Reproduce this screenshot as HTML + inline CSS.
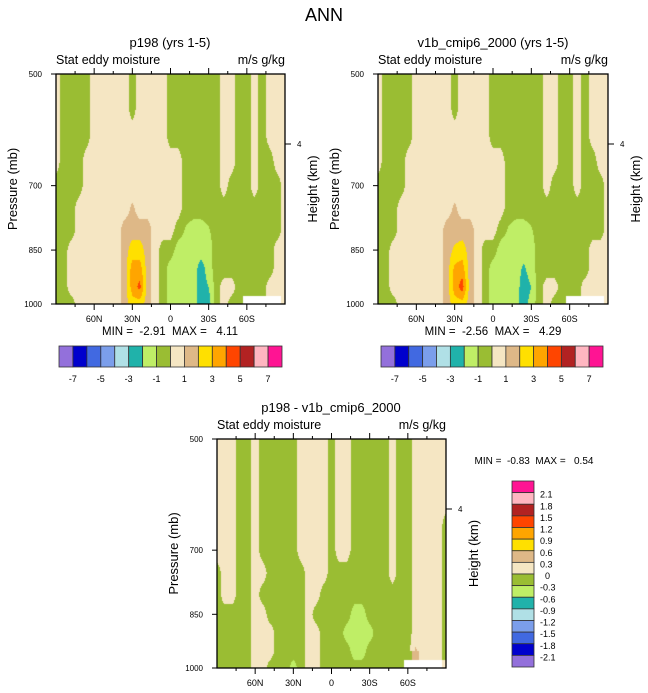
<!DOCTYPE html>
<html><head><meta charset="utf-8">
<style>
body{margin:0;background:#fff;width:648px;height:693px;position:relative;overflow:hidden;font-family:"Liberation Sans",sans-serif}
canvas{position:absolute}
svg{position:absolute;left:0;top:0}
text{font-family:"Liberation Sans",sans-serif;fill:#000;white-space:pre}
</style></head>
<body>
<canvas id="c1" width="229" height="230" style="left:56px;top:74px"></canvas>
<canvas id="c2" width="230" height="230" style="left:378px;top:74px"></canvas>
<canvas id="c3" width="229" height="229" style="left:217px;top:439px"></canvas>
<svg id="s" width="648" height="693"></svg>
<script>
const latLabels=["60N","30N","0","30S","60S"];
const pTicks=[500,700,850,1000];
const colors=["#9370DB","#0000CD","#4169E1","#7B9EEB","#B0E0E6","#20B2AA","#BFEE66","#9ABD33","#F5E6C3","#DEB887","#FFE000","#FFA500","#FF4500","#B22222","#FFB6C1","#FF1493"];
const topLevelLabels=["-7","-5","-3","-1","1","3","5","7"];
const diffLevelLabels=["2.1","1.8","1.5","1.2","0.9","0.6","0.3","0","-0.3","-0.6","-0.9","-1.2","-1.5","-1.8","-2.1"];
const pLevels=[500,550,600,650,700,750,800,850,900,950,1000];
// rows: pressure 500..1000, columns 90N..90S every 6 deg
const gridA=[
[0.5,-0.5,-0.5,-0.5,-0.5,0.5,0.5,0.5,0.5,0.5,-0.5,0.5,0.5,0.5,0.5,-0.5,-0.5,-0.5,-0.5,-0.5,-0.5,-0.5,0.5,0.5,-0.5,-0.5,0.5,-0.5,0.5,0.5,0.5],
[0.5,-0.5,-0.5,-0.5,-0.5,0.5,0.5,0.5,0.5,0.5,-0.5,0.5,0.5,0.5,0.5,-0.5,-0.5,-0.5,-0.5,-0.5,-0.5,-0.5,0.5,0.5,-0.5,-0.5,0.5,-0.5,0.5,0.5,0.5],
[0.5,-0.5,-0.5,-0.5,-0.5,0.5,0.5,0.5,0.5,0.5,0.5,0.5,0.5,0.5,0.5,-0.5,-0.5,-0.5,-0.5,-0.5,-0.5,-0.5,0.5,0.5,-0.5,-0.5,0.5,-0.5,0.5,0.5,0.5],
[0.5,-0.5,-0.5,-0.5,0.5,0.5,0.5,0.5,0.5,0.5,0.5,0.5,0.5,0.5,0.5,0.5,0.5,-0.5,-0.5,-0.5,-0.5,-0.5,0.5,0.5,-0.5,-0.5,0.5,-0.5,-0.5,0.5,0.5],
[-0.5,-0.5,-0.5,-0.5,0.5,0.5,0.5,0.5,0.5,0.5,0.5,0.5,0.5,0.5,0.5,0.5,0.5,-0.5,-0.5,-0.5,-0.5,-0.5,0.5,-0.5,-0.5,-0.5,0.5,-0.5,-0.5,-0.5,0.5],
[-0.5,-0.5,-0.5,0.5,0.5,0.5,0.5,0.5,0.5,0.5,1.2,0.5,0.5,0.5,0.5,0.5,0.5,-0.5,-0.5,-0.5,-0.5,-0.5,-0.5,-0.5,-0.5,-0.5,-0.5,-0.5,-0.5,-0.5,0.5],
[-0.5,-0.5,-0.5,0.5,0.5,0.5,0.5,0.5,0.5,1.5,1.5,1.5,1.5,0.5,0.5,0.5,-0.5,-1.1,-1.5,-1.5,-1.1,-0.5,-0.5,-0.5,-0.5,-0.5,-0.5,-0.5,-0.5,-0.5,0.5],
[-0.5,-0.5,0.5,0.5,0.5,0.5,0.5,0.5,0.5,1.5,2.5,2.5,1.5,0.5,-0.5,-0.5,-1.5,-1.5,-1.5,-1.5,-1.5,-0.5,-0.5,-0.5,-0.5,-0.5,-0.5,-0.5,-0.5,0.5,0.5],
[-0.5,-0.5,0.5,0.5,0.5,0.5,0.5,0.5,0.5,1.5,3.5,3.5,1.5,0.5,-0.5,-1.5,-1.5,-1.5,-1.5,-2.5,-1.5,-0.5,-0.5,-0.5,-0.5,-0.5,-0.5,-0.5,-0.5,0.5,0.5],
[-0.5,-0.5,0.5,0.5,0.5,0.5,0.5,0.5,0.5,1.5,3.5,4.3,1.5,0.5,-0.5,-1.5,-1.5,-1.5,-1.5,-2.5,-2.0,-0.5,0.5,0.5,-0.5,-0.5,-0.5,-0.5,0.5,0.5,0.5],
[-0.5,-0.5,-0.5,0.5,0.5,0.5,0.5,0.5,0.5,1.5,2.5,2.5,1.5,0.5,-0.5,-1.5,-1.5,-1.5,-1.5,-2.5,-2.5,-0.5,0.5,-0.5,-0.5,null,null,null,null,null,0.5]];
const gridB=[
[0.5,-0.5,-0.5,-0.5,-0.5,0.5,0.5,0.5,0.5,0.5,-0.5,0.5,0.5,0.5,0.5,-0.5,-0.5,-0.5,-0.5,-0.5,-0.5,-0.5,0.5,0.5,-0.5,-0.5,0.5,-0.5,0.5,0.5,0.5],
[0.5,-0.5,-0.5,-0.5,-0.5,0.5,0.5,0.5,0.5,0.5,-0.5,0.5,0.5,0.5,0.5,-0.5,-0.5,-0.5,-0.5,-0.5,-0.5,-0.5,0.5,0.5,-0.5,-0.5,0.5,-0.5,0.5,0.5,0.5],
[0.5,-0.5,-0.5,-0.5,-0.5,0.5,0.5,0.5,0.5,0.5,0.5,0.5,0.5,0.5,0.5,-0.5,-0.5,-0.5,-0.5,-0.5,-0.5,-0.5,0.5,0.5,-0.5,-0.5,0.5,-0.5,0.5,0.5,0.5],
[0.5,-0.5,-0.5,-0.5,0.5,0.5,0.5,0.5,0.5,0.5,0.5,0.5,0.5,0.5,0.5,0.5,0.5,-0.5,-0.5,-0.5,-0.5,-0.5,0.5,0.5,-0.5,-0.5,0.5,-0.5,-0.5,0.5,0.5],
[-0.5,-0.5,-0.5,-0.5,0.5,0.5,0.5,0.5,0.5,0.5,0.5,0.5,0.5,0.5,0.5,0.5,0.5,-0.5,-0.5,-0.5,-0.5,-0.5,0.5,-0.5,-0.5,-0.5,0.5,-0.5,-0.5,-0.5,0.5],
[-0.5,-0.5,-0.5,0.5,0.5,0.5,0.5,0.5,0.5,0.5,1.2,0.5,0.5,0.5,0.5,0.5,0.5,-0.5,-0.5,-0.5,-0.5,-0.5,-0.5,-0.5,-0.5,-0.5,-0.5,-0.5,-0.5,-0.5,0.5],
[-0.5,-0.5,-0.5,0.5,0.5,0.5,0.5,0.5,0.5,1.5,1.5,1.5,1.5,0.5,0.5,0.5,-0.5,-1.1,-1.5,-1.5,-1.1,-0.5,-0.5,-0.5,-0.5,-0.5,-0.5,-0.5,-0.5,-0.5,0.5],
[-0.5,-0.5,0.5,0.5,0.5,0.5,0.5,0.5,0.5,1.5,2.2,2.5,1.5,0.5,-0.5,-0.5,-1.5,-1.5,-1.5,-1.5,-1.5,-0.5,-0.5,-0.5,-0.5,-0.5,-0.5,-0.5,0.5,0.5,0.5],
[-0.5,-0.5,0.5,0.5,0.5,0.5,0.5,0.5,0.5,1.5,3.3,3.5,1.5,0.5,-0.5,-1.5,-1.5,-1.5,-1.5,-2.2,-1.5,-0.5,-0.5,-0.5,-0.5,-0.5,-0.5,-0.5,0.5,0.5,0.5],
[-0.5,-0.5,0.5,0.5,0.5,0.5,0.5,0.5,0.5,1.5,3.5,4.5,1.5,0.5,-0.5,-1.5,-1.5,-1.5,-1.5,-2.6,-2.0,-0.5,0.5,0.5,-0.5,-0.5,-0.5,0.5,0.5,0.5,0.5],
[-0.5,-0.5,-0.5,0.5,0.5,0.5,0.5,0.5,0.5,1.5,2.5,2.5,1.5,0.5,-0.5,-1.5,-1.5,-1.5,-1.5,-2.6,-1.5,-0.5,0.5,-0.5,-0.5,null,null,null,null,null,0.5]];
const gridD=[
[0.15,0.15,0.15,-0.15,-0.15,0.15,-0.15,-0.15,-0.15,-0.15,-0.15,0.15,0.15,0.15,0.15,-0.15,0.15,0.15,-0.15,-0.15,-0.15,-0.15,-0.15,0.15,-0.15,-0.15,0.15,0.15,0.15,0.15,0.15],
[0.15,0.15,0.15,-0.15,-0.15,0.15,-0.15,-0.15,-0.15,-0.15,-0.15,0.15,0.15,0.15,0.15,-0.15,0.15,0.15,-0.15,-0.15,-0.15,-0.15,-0.15,0.15,-0.15,-0.15,0.15,0.15,0.15,0.15,0.15],
[0.15,0.15,0.15,-0.15,-0.15,0.15,-0.15,-0.15,-0.15,-0.15,-0.15,0.15,0.15,0.15,0.15,-0.15,0.15,0.15,-0.15,-0.15,-0.15,-0.15,-0.15,0.15,-0.15,-0.15,0.15,0.15,0.15,0.15,0.15],
[0.15,0.15,0.15,-0.15,-0.15,0.15,-0.15,-0.15,-0.15,-0.15,-0.15,0.15,0.15,0.15,0.15,-0.15,0.15,0.15,-0.15,-0.15,-0.15,-0.15,-0.15,0.15,-0.15,-0.15,0.15,0.15,0.15,0.15,-0.15],
[0.15,0.15,0.15,-0.15,-0.15,0.15,-0.15,-0.15,-0.15,-0.15,-0.15,0.15,0.15,0.15,0.15,-0.15,0.15,0.15,-0.15,-0.15,-0.15,-0.15,-0.15,0.15,-0.15,-0.15,0.15,0.15,0.15,0.15,-0.15],
[-0.15,0.15,0.15,-0.15,-0.15,0.15,0.15,-0.15,-0.15,-0.15,-0.15,-0.15,0.15,0.15,0.15,-0.15,-0.15,-0.15,-0.15,-0.15,-0.15,-0.15,-0.15,0.15,-0.15,-0.15,0.15,0.15,0.15,0.15,-0.15],
[-0.15,0.15,0.15,-0.15,-0.15,0.15,-0.15,-0.15,-0.15,-0.15,-0.15,-0.15,0.15,0.15,-0.15,-0.15,-0.15,-0.15,-0.15,-0.15,-0.15,-0.15,-0.15,-0.15,-0.15,-0.15,0.15,0.15,0.15,0.15,-0.15],
[-0.15,-0.15,-0.15,-0.15,-0.15,0.15,0.15,-0.15,-0.15,-0.15,-0.15,-0.15,0.15,-0.15,-0.15,-0.15,-0.15,-0.15,-0.45,-0.45,-0.15,-0.15,-0.15,-0.15,-0.15,-0.15,0.15,0.15,0.15,0.15,-0.15],
[-0.15,-0.15,-0.15,-0.15,-0.15,0.15,0.15,0.15,-0.15,-0.15,-0.15,-0.15,0.15,0.15,-0.15,-0.15,-0.15,-0.45,-0.45,-0.45,-0.45,-0.15,-0.15,-0.15,-0.15,-0.15,0.15,0.15,0.15,0.15,-0.15],
[-0.15,-0.15,-0.15,-0.15,-0.15,0.15,0.15,0.15,-0.15,-0.15,-0.15,-0.15,0.15,0.15,-0.15,-0.15,-0.15,-0.15,-0.45,-0.45,-0.15,-0.15,-0.15,-0.15,-0.15,-0.15,0.35,0.15,0.15,0.15,-0.15],
[-0.15,-0.15,-0.15,-0.15,-0.15,0.15,0.15,-0.15,-0.15,-0.15,-0.45,-0.15,0.15,0.15,-0.15,-0.15,-0.15,-0.15,-0.15,-0.15,-0.15,-0.15,-0.15,-0.15,-0.15,null,null,null,null,null,0.15]];

const S=document.getElementById('s');const NS="http://www.w3.org/2000/svg";
function el(tag,attrs,txt){const e=document.createElementNS(NS,tag);for(const k in attrs)e.setAttribute(k,attrs[k]);if(txt!==undefined)e.textContent=txt;S.appendChild(e);return e;}
function colIdx(v,lo,step){let i=Math.floor((v-lo)/step+1e-9)+1;return Math.max(0,Math.min(15,i));}
function hex(c){return [parseInt(c.substr(1,2),16),parseInt(c.substr(3,2),16),parseInt(c.substr(5,2),16)];}
const rgb=colors.map(hex);
function fill(id,grid,lo,step){
 const cv=document.getElementById(id),ctx=cv.getContext('2d'),W=cv.width,H=cv.height;
 const img=ctx.createImageData(W,H);const nc=grid[0].length-1,nr=pLevels.length-1;
 for(let y=0;y<H;y++){const p=500*Math.pow(2,(y+0.5)/H);let fr=(p-500)/50;
  let r0=Math.min(nr-1,Math.floor(fr)),ty=fr-r0;
  for(let x=0;x<W;x++){let fc=(x+0.5)/W*nc;let c0=Math.min(nc-1,Math.floor(fc)),tx=fc-c0;
   const a=grid[r0][c0],b=grid[r0][c0+1],c=grid[r0+1][c0],d=grid[r0+1][c0+1];let v;
   if(a===null||b===null||c===null||d===null){v=grid[ty<0.5?r0:r0+1][tx<0.5?c0:c0+1];}
   else v=a*(1-tx)*(1-ty)+b*tx*(1-ty)+c*(1-tx)*ty+d*tx*ty;
   const k=(y*W+x)*4;
   if(v===null){img.data[k]=255;img.data[k+1]=255;img.data[k+2]=255;}
   else{const col=rgb[colIdx(v,lo,step)];img.data[k]=col[0];img.data[k+1]=col[1];img.data[k+2]=col[2];}
   img.data[k+3]=255;}}
 ctx.putImageData(img,0,0);
}
function yOf(p,y0,h){return y0+h*Math.log(p/500)/Math.log(2);}
function axes(x0,y0,w,h,title,titleX,htY,name){
 el('rect',{x:x0,y:y0,width:w,height:h,fill:'none',stroke:'#000','stroke-width':1.3,});
 for(let i=1;i<12;i++){const x=x0+w*i/12;const maj=i%2===0;
  el('line',{x1:x,x2:x,y1:y0,y2:y0-(maj?6:3),stroke:'#000','stroke-width':1});
  el('line',{x1:x,x2:x,y1:y0+h,y2:y0+h+(maj?6:3),stroke:'#000','stroke-width':1});}
 latLabels.forEach((l,i)=>{const t=el('text',{x:x0+w*(i+1)*2/12,y:y0+h+18,'font-size':9,'text-anchor':'middle'},l);
  });
 pTicks.forEach(p=>{const y=yOf(p,y0,h);el('line',{x1:x0-5,x2:x0,y1:y,y2:y,stroke:'#000'});
  const t=el('text',{x:x0-14,y:y+3,'font-size':8,'text-anchor':'end'},p);
  });
 el('line',{x1:x0+w,x2:x0+w+6,y1:htY,y2:htY,stroke:'#000'});
 el('text',{x:x0+w+12,y:htY+3,'font-size':8,},'4');
 el('text',{x:x0,y:y0-10,'font-size':12.5,},'Stat eddy moisture');
 el('text',{x:x0+w,y:y0-10,'font-size':12.5,'text-anchor':'end',},'m/s g/kg');
 el('text',{x:0,y:0,'font-size':13,'text-anchor':'middle',transform:`translate(${x0-39},${y0+h/2}) rotate(-90)`,},'Pressure (mb)');
 el('text',{x:0,y:0,'font-size':13,'text-anchor':'middle',transform:`translate(${x0+w+32},${y0+h/2}) rotate(-90)`,},'Height (km)');
 el('text',{x:titleX,y:y0-27,'font-size':13,'text-anchor':'middle',},title);
}
function hbar(x0,y0,w,h){const bw=w/16;
 colors.forEach((c,i)=>{const r=el('rect',{x:x0+i*bw,y:y0,width:bw,height:h,fill:c,stroke:'#333','stroke-width':0.8});
  });
 topLevelLabels.forEach((l,i)=>{const t=el('text',{x:x0+bw*(1+2*i),y:y0+h+15,'font-size':9,'text-anchor':'middle'},l);
  });
}
fill('c1',gridA,-7,1);fill('c2',gridB,-7,1);fill('c3',gridD,-2.1,0.3);
el('text',{x:324,y:21,'font-size':18,'text-anchor':'middle',},'ANN');
axes(56,74,229,230,'p198 (yrs 1-5)',170,144,'panel-p198');
axes(378,74,230,230,'v1b_cmip6_2000 (yrs 1-5)',493,144,'panel-v1b');
axes(217,439,229,229,'p198 - v1b_cmip6_2000',331,509,'panel-diff');
el('text',{x:170,y:335,'font-size':11.5,'text-anchor':'middle',},'MIN =  -2.91  MAX =   4.11');
el('text',{x:493,y:335,'font-size':11.5,'text-anchor':'middle',},'MIN =  -2.56  MAX =   4.29');
el('text',{x:534,y:464,'font-size':10,'text-anchor':'middle',},'MIN =  -0.83  MAX =   0.54');
hbar(59,346,223,21);hbar(381,346,222,21);
{const x0=512,y0=481,w=22,h=186,bh=h/16;
 colors.slice().reverse().forEach((c,i)=>{const r=el('rect',{x:x0,y:y0+i*bh,width:w,height:bh,fill:c,stroke:'#333','stroke-width':0.8});
  });
 diffLevelLabels.forEach((l,i)=>{const t=el('text',{x:l==="0"?545:540,y:y0+(i+1)*bh+5,'font-size':9},l);
  });}
</script>
</body></html>
